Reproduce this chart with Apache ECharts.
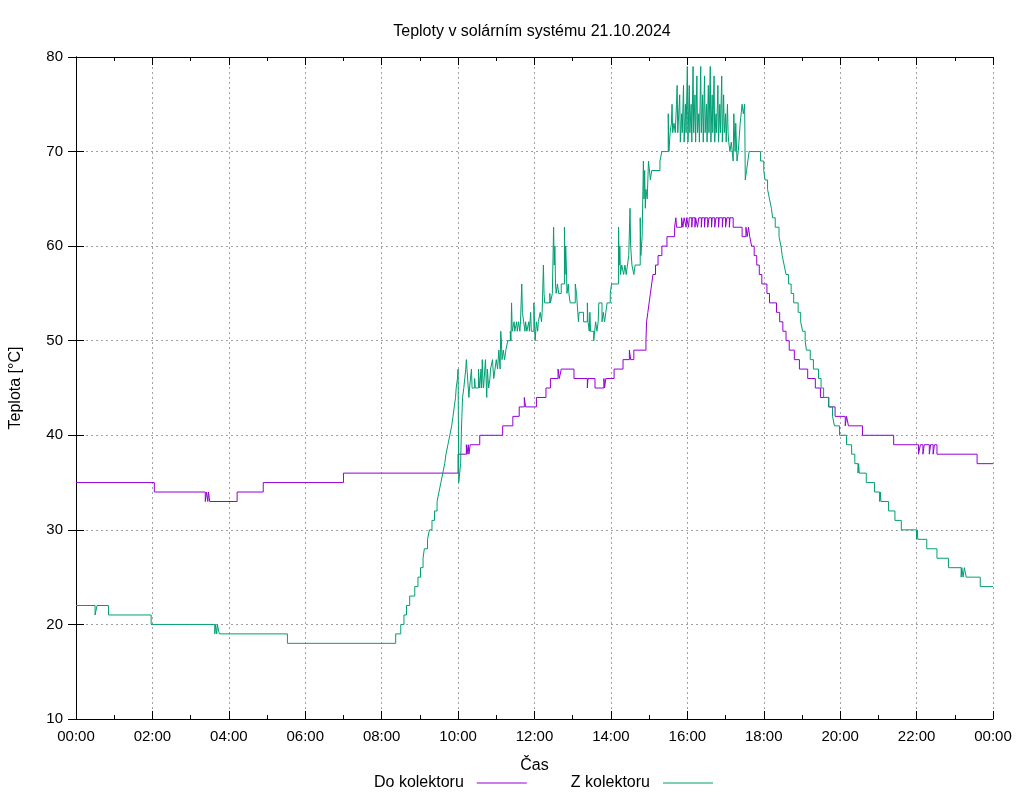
<!DOCTYPE html>
<html>
<head>
<meta charset="utf-8">
<title>Teploty v solárním systému</title>
<script src="https://cdn.jsdelivr.net/npm/echarts/dist/echarts.min.js"></script>
<style>
  html, body { margin: 0; padding: 0; background: #fff; }
</style>
</head>
<body>
<div id="myChart" style="width:1024px;height:800px;"></div>
<script>
// time in minutes from midnight, temperature in °C
const doKolektoru = [
  [0,35],[123,34],[203,33],[205,34],[207,33],[208,34],[210,33],[253,34],[294,35],[420,36],
  [600,38],[613,39],[614,38],[616,39],[617,38],[619,39],[634,40],[670,41],[686,42],[696,43],
  [704,44],[706,43],[723,44],[738,45],[745,46],[757,47],[759,46],[762,47],[782,46],[803,45],
  [804,46],[815,45],[829,46],[830,45],[832,46],[845,47],[859,48],[869,49],[871,48],[876,49],
  [895,50],[896,52],[898,53],[900,54],[902,55],[904,56],[906,57],[910,58],[914,59],[920,60],
  [928,61],[940,62],[942,63],[943,62],[951,63],[953,62],[955,63],[958,62],[959,63],[962,62],
  [963,63],[967,62],[968,63],[972,62],[973,63],[976,62],[978,63],[982,62],[983,63],[987,62],
  [988,63],[992,62],[994,63],[998,62],[999,63],[1003,62],[1005,63],[1009,62],[1010,63],[1015,62],
  [1016,63],[1020,62],[1022,63],[1026,62],[1027,63],[1032,62],[1046,61],[1052,62],[1054,61],[1056,62],
  [1058,61],[1061,60],[1065,59],[1069,58],[1073,57],[1077,56],[1085,55],[1089,54],[1100,53],[1105,52],
  [1110,51],[1115,50],[1120,49],[1128,48],[1136,47],[1149,46],[1161,45],[1169,44],[1182,43],[1192,42],
  [1208,41],[1210,42],[1213,41],[1235,40],[1284,39],[1323,38],[1326,39],[1330,38],[1332,39],[1340,38],
  [1342,39],[1346,38],[1348,39],[1352,38],[1415,37],[1440,37]
]
const zKolektoru = [
  [0,22],[30,21],[33,22],[51,21],[118,20],[218,19],[219,20],[221,19],[222,20],[225,19],
  [332,18],[502,19],[510,20],[515,21],[519,22],[524,23],[532,24],[537,25],[541,26],[545,27],
  [547,28],[552,29],[555,30],[559,31],[563,32],[567,33],[570,34],[573,35],[576,36],[579,37],
  [581,38],[584,39],[587,40],[590,41],[592,42],[594,43],[596,44],[597,45],[599,46],[600,47],
  [601,35],[604,37],[605,40],[606,42],[607,44],[609,45],[612,47],[613,48],[614,47],[616,45],
  [617,44],[618,45],[621,47],[622,45],[626,46],[627,45],[632,47],[634,45],[636,47],[637,45],
  [638,48],[639,46],[640,45],[643,48],[644,46],[645,44],[646,47],[648,45],[650,46],[651,47],
  [654,48],[655,47],[656,46],[658,47],[660,48],[662,47],[664,49],[666,47],[667,51],[668,50],
  [669,48],[671,49],[673,48],[675,49],[678,50],[682,51],[683,50],[684,54],[685,51],[688,52],
  [689,51],[692,52],[693,51],[695,52],[697,51],[698,52],[700,56],[701,53],[703,52],[705,51],
  [706,52],[708,51],[711,52],[712,51],[714,53],[715,51],[719,54],[720,52],[721,50],[723,52],
  [725,51],[726,52],[729,53],[731,52],[732,53],[734,58],[735,55],[736,54],[744,55],[745,54],
  [748,55],[750,62],[751,58],[752,60],[753,56],[754,55],[756,56],[758,55],[762,56],[767,62],
  [768,57],[769,60],[770,58],[771,55],[773,56],[774,55],[776,54],[784,56],[786,55],[788,53],
  [789,52],[790,53],[797,52],[803,54],[804,52],[806,51],[807,53],[808,51],[813,50],[816,52],
  [818,51],[820,52],[821,54],[826,52],[828,53],[830,52],[832,53],[834,54],[839,55],[841,56],
  [852,62],[853,58],[854,60],[855,57],[857,58],[860,57],[862,58],[864,57],[866,58],[868,59],
  [870,64],[871,60],[873,58],[876,57],[878,58],[886,63],[887,59],[889,61],[891,69],[892,65],
  [893,68],[894,64],[895,66],[897,65],[899,69],[902,67],[904,68],[917,69],[920,70],[930,74],
  [931,70],[933,72],[935,73],[936,75],[937,72],[939,73],[941,72],[943,75],[944,77],[945,72],
  [948,76],[949,71],[951,74],[952,72],[954,77],[955,71],[957,75],[958,72],[960,79],[961,71],
  [963,77],[964,72],[966,75],[967,71],[969,79],[970,72],[972,76],[973,71],[975,78],[976,72],
  [978,74],[979,71],[981,79],[982,72],[984,76],[985,71],[987,78],[988,72],[990,75],[991,71],
  [993,77],[994,72],[996,79],[997,71],[999,76],[1000,72],[1002,78],[1003,71],[1005,74],[1006,72],
  [1008,77],[1009,71],[1011,75],[1012,72],[1014,78],[1015,71],[1017,76],[1018,72],[1020,74],[1021,71],
  [1023,75],[1024,72],[1025,71],
  [1027,70],[1029,71],[1032,69],[1033,74],[1035,70],[1036,73],[1038,69],[1040,70],[1041,71],[1043,73],
  [1046,75],[1048,74],[1050,75],[1051,67],[1053,68],[1055,69],[1057,70],[1075,69],[1080,68],[1082,67],
  [1086,66],[1089,65],[1092,64],[1094,63],[1098,62],[1104,61],[1107,60],[1109,59],[1112,58],[1115,57],
  [1119,56],[1123,55],[1127,54],[1134,53],[1138,52],[1141,51],[1145,50],[1147,49],[1153,48],[1158,47],
  [1166,46],[1170,45],[1174,44],[1182,43],[1188,42],[1191,41],[1199,40],[1210,39],[1218,38],[1223,37],
  [1228,36],[1229,37],[1230,36],[1241,35],[1254,34],[1262,33],[1263,34],[1264,33],[1276,32],[1286,31],
  [1296,30],[1320,29],[1321,30],[1322,29],[1336,28],[1352,27],[1370,26],[1390,25],[1391,26],[1393,25],
  [1395,26],[1398,25],[1420,24],[1440,24]
]

const FONT = '"Liberation Sans", Arial, sans-serif'
const PURPLE = '#9400d3'
const GREEN = '#009e73'

function hhmm(v){ // minutes -> HH:MM
  let m = v % 1440
  let h = Math.floor(m / 60)
  let mm = m % 60
  return (h < 10 ? '0' : '') + h + ':' + (mm < 10 ? '0' : '') + mm
}

let myChart = echarts.init(document.getElementById('myChart'))
myChart.setOption({
  animation: false,
  backgroundColor: '#fff',
  textStyle: { fontFamily: FONT },
  title: {
    text: 'Teploty v solárním systému 21.10.2024',
    left: 527,
    textAlign: 'center',
    top: 19,
    textStyle: { fontFamily: FONT, fontSize: 16, fontWeight: 'normal', color: '#000' }
  },
  legend: {
    left: 369,
    top: 770,
    align: 'right',
    itemWidth: 50,
    itemHeight: 1,
    itemGap: 44,
    icon: 'rect',
    textStyle: { fontFamily: FONT, fontSize: 16, color: '#000', padding: [0, 8, 0, 0] },
    data: [
      { name: 'Do kolektoru', itemStyle: { color: PURPLE } },
      { name: 'Z kolektoru', itemStyle: { color: GREEN } }
    ]
  },
  grid: { left: 75, right: 31, top: 57, bottom: 81 },
  xAxis: [
    {
      type: 'value', min: 0, max: 1440, interval: 120,
      name: 'Čas', nameLocation: 'middle', nameGap: 39,
      nameTextStyle: { fontFamily: FONT, fontSize: 16, color: '#000' },
      axisLine: { lineStyle: { color: '#000', width: 1 } },
      axisTick: { inside: true, length: 8, lineStyle: { color: '#000' } },
      minorTick: { show: true, splitNumber: 2, length: 4, lineStyle: { color: '#000' } },
      axisLabel: { formatter: hhmm, fontSize: 15, color: '#000', margin: 10, fontFamily: FONT },
      splitLine: { show: true, lineStyle: { color: '#a0a0a0', type: [2, 3], width: 1 } }
    },
    {
      type: 'value', min: 0, max: 1440, interval: 120, position: 'top',
      axisLine: { lineStyle: { color: '#000', width: 1 } },
      axisTick: { inside: true, length: 8, lineStyle: { color: '#000' } },
      minorTick: { show: true, splitNumber: 2, length: 4, lineStyle: { color: '#000' } },
      axisLabel: { show: false },
      splitLine: { show: false }
    }
  ],
  yAxis: [
    {
      type: 'value', min: 10, max: 80, interval: 10,
      name: 'Teplota [°C]', nameLocation: 'middle', nameRotate: 90, nameGap: 52,
      nameTextStyle: { fontFamily: FONT, fontSize: 16, color: '#000' },
      axisLine: { show: true, lineStyle: { color: '#000', width: 1 } },
      axisTick: { show: true, inside: true, length: 8, lineStyle: { color: '#000' } },
      axisLabel: { fontSize: 15, color: '#000', margin: 13, fontFamily: FONT },
      splitLine: { show: true, lineStyle: { color: '#a0a0a0', type: [2, 3], width: 1 } }
    },
    {
      type: 'value', min: 10, max: 80, interval: 10, position: 'right',
      axisLine: { show: true, lineStyle: { color: '#000', width: 1 } },
      axisTick: { show: true, inside: true, length: 8, lineStyle: { color: '#000' } },
      axisLabel: { show: false },
      splitLine: { show: false }
    }
  ],
  series: [
    {
      name: 'Do kolektoru', type: 'line', step: 'end', symbol: 'none',
      color: PURPLE, lineStyle: { width: 1, color: PURPLE },
      data: doKolektoru
    },
    {
      name: 'Z kolektoru', type: 'line', step: 'end', symbol: 'none',
      color: GREEN, lineStyle: { width: 1, color: GREEN },
      data: zKolektoru
    }
  ]
})
</script>
</body>
</html>
